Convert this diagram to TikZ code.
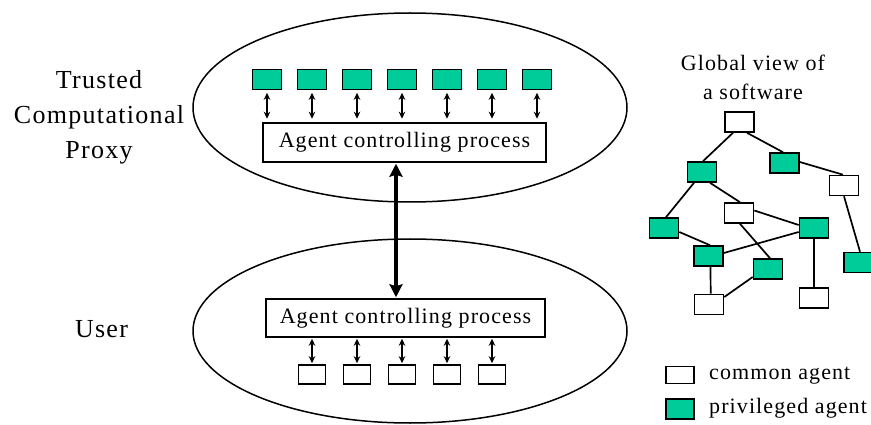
\documentclass[tikz,border=0pt]{standalone}
\usepackage{fontspec}
\setmainfont{Liberation Serif}[LetterSpace=5]
\usetikzlibrary{shapes.geometric,arrows.meta,calc}
\definecolor{agentgreen}{RGB}{0,204,153}
\tikzset{
  ell/.style={draw, ellipse, line width=1.5pt, inner sep=0pt, minimum width=434pt},
  pbox/.style={draw, line width=1.5pt, minimum width=283pt, minimum height=38pt, inner sep=0pt, font=\fontsize{22}{26}\selectfont},
  gbox/.style={draw, fill=agentgreen, line width=1.6pt, minimum width=29pt, minimum height=20pt, inner sep=0pt},
  wbox/.style={draw, fill=white, line width=1.6pt, minimum width=29pt, minimum height=20pt, inner sep=0pt},
  sarrow/.style={line width=1.2pt, {Stealth[length=7pt,width=6.5pt]}-{Stealth[length=7pt,width=6.5pt]}},
  barrow/.style={line width=3.5pt, {Stealth[length=13pt,width=13pt,inset=2pt]}-{Stealth[length=13pt,width=13pt,inset=2pt]}},
  edge/.style={line width=1.7pt},
  lbl/.style={align=center, inner sep=0pt, font=\fontsize{26}{35}\selectfont},
  sml/.style={align=center, inner sep=0pt, font=\fontsize{22}{29}\selectfont},
}
\begin{document}
\begin{tikzpicture}[x=1pt,y=-1pt]
\useasboundingbox (0,0) rectangle (871,425);
% ellipses
\node[ell, minimum height=189pt] (topell) at (410,107.5) {};
\node[ell, minimum height=184pt] (botell) at (410,331) {};
% labels
\node[lbl] (tcp) at (99,117) {Trusted\\Computational\\Proxy};
\node[lbl] (user) at (101.5,329) {User};
% process boxes
\node[pbox, minimum height=39pt] (proc) at (404.5,142.5) {Agent controlling process};
\node[pbox, minimum width=279pt] (proc2) at (405.5,318) {Agent controlling process};
% top privileged agents
\foreach \i/\x in {1/267,2/312,3/357,4/402,5/447,6/492,7/537}{
  \node[gbox] (t\i) at (\x,79.5) {};
  \draw[sarrow, shorten <=2.5pt, shorten >=3.5pt] (t\i.south) -- (t\i.south |- proc.north);
}
% bottom common agents
\foreach \i/\x in {1/312,2/357,3/402,4/447,5/492}{
  \node[wbox, minimum width=27pt, minimum height=19pt] (b\i) at (\x,374.5) {};
  \draw[sarrow, shorten <=1pt, shorten >=1pt] (b\i.north) -- (b\i.north |- proc2.south);
}
% big arrow
\draw[barrow] ($(proc.south)+(-8.5,1)$) -- ($(proc2.north)+(-9.5,-1)$);
% global view
\node[sml] (gv) at (753,77.5) {Global view of\\a software};
\node[wbox] (A) at (739.5,122) {};
\node[gbox] (B) at (702,172) {};
\node[gbox] (C) at (784.5,163) {};
\node[wbox] (D) at (844,185.5) {};
\node[gbox] (E) at (664,228) {};
\node[wbox] (F) at (739,213) {};
\node[gbox] (G) at (814,228) {};
\node[gbox] (H) at (708.5,256) {};
\node[gbox] (I) at (768,269) {};
\node[gbox] (J) at (858.5,262.5) {};
\node[wbox] (K) at (709,304.5) {};
\node[wbox] (L) at (814,298) {};
\draw[edge] ($(A.south)+(-6.5,0)$) -- ($(B.north)+(1,0)$);
\draw[edge] ($(A.south)+(7.5,0)$) -- ($(C.north)+(-1.5,0)$);
\draw[edge] ($(C.east)+(0,-1)$) -- ($(D.north)+(-1,0)$);
\draw[edge] ($(B.south)+(-8,0)$) -- ($(E.north)+(2,0)$);
\draw[edge] ($(B.south)+(8,0)$) -- ($(F.north)+(1,0)$);
\draw[edge] ($(F.east)+(0,-2.5)$) -- ($(G.west)+(0,-3)$);
\draw[edge] ($(F.south)+(1,0)$) -- ($(I.north)+(2,0)$);
\draw[edge] ($(E.east)+(0,4)$) -- ($(H.north)+(1.5,0)$);
\draw[edge] ($(H.east)+(0,-3)$) -- ($(G.west)+(0,4)$);
\draw[edge] (D.south) -- ($(J.north)+(1.5,0)$);
\draw[edge] (G) -- (L);
\draw[edge] ($(H.south)+(2,0)$) -- ($(K.north)+(1.7,0)$);
\draw[edge] ($(K.east)+(0,-7.5)$) -- ($(I.west)+(0,8)$);
% legend
\node[wbox, minimum width=28pt, minimum height=17pt] (lw) at (680,375) {};
\node[gbox, minimum width=28pt, minimum height=20pt] (lg) at (680,409) {};
\node[sml, anchor=base west] (lwt) at (709,379) {common agent};
\node[sml, anchor=base west] (lgt) at (709,413) {privileged agent};
\end{tikzpicture}
\end{document}
